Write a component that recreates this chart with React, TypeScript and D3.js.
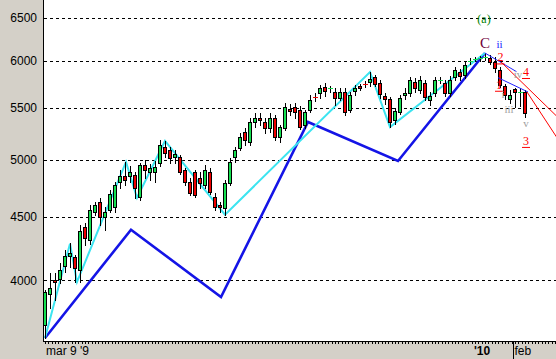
import React from "react";
import * as d3 from "d3";

const WIDTH = 556;
const HEIGHT = 359;

const opens = [
  3683, 3900, 4003, 4012, 4111, 4187, 4180, 4081, 4418, 4313,
  4541, 4626, 4500, 4558, 4583, 4799, 4852, 4852, 4861, 4669,
  4951, 4888, 4888, 4970, 5119, 5091, 5026, 5026, 4906, 4799,
  4888, 4834, 4773, 4888, 4669, 4600, 4575, 4790, 5026, 5110,
  5262, 5166, 5360, 5400, 5360, 5302, 5400, 5214, 5302, 5490,
  5511, 5481, 5331, 5481, 5614, 5656, 5719, 5698, 5666, 5604,
  5666, 5481, 5677, 5725, 5755, 5776, 5825, 5761, 5624, 5593,
  5380, 5460, 5635, 5656, 5772, 5687, 5761, 5583, 5656, 5790,
  5761, 5656, 5825, 5879, 5847, 5995, 6018, 6030, 6040, 6033,
  5989, 5901, 5730, 5593, 5698, 5662, 5666,
];
const highs = [
  3929, 4058, 4058, 4134, 4234, 4289, 4195, 4434, 4450, 4600,
  4626, 4660, 4583, 4729, 4799, 4906, 4979, 4942, 4888, 4970,
  4997, 4960, 4988, 5185, 5176, 5119, 5091, 5044, 4924, 4834,
  4906, 4888, 4951, 4924, 4703, 4626, 4817, 5017, 5119, 5252,
  5302, 5400, 5450, 5450, 5400, 5450, 5430, 5331, 5552, 5542,
  5552, 5521, 5481, 5635, 5656, 5740, 5761, 5730, 5708, 5708,
  5708, 5666, 5740, 5750, 5780, 5879, 5847, 5793, 5656, 5614,
  5500, 5635, 5708, 5825, 5815, 5836, 5793, 5666, 5825, 5825,
  5793, 5836, 5934, 5912, 5989, 6030, 6045, 6060, 6089, 6067,
  6045, 5934, 5750, 5687, 5708, 5708, 5687,
];
const lows = [
  3596, 3801, 3858, 3981, 4066, 4104, 3988, 3988, 4273, 4281,
  4516, 4434, 4393, 4541, 4541, 4747, 4773, 4799, 4660, 4643,
  4834, 4817, 4799, 4942, 5026, 4970, 4970, 4870, 4773, 4686,
  4669, 4747, 4747, 4695, 4558, 4541, 4516, 4773, 4979, 5091,
  5138, 5138, 5311, 5331, 5252, 5262, 5185, 5166, 5282, 5430,
  5400, 5292, 5302, 5460, 5573, 5604, 5624, 5666, 5531, 5583,
  5430, 5460, 5635, 5690, 5720, 5730, 5730, 5604, 5542, 5311,
  5340, 5440, 5593, 5624, 5666, 5656, 5583, 5531, 5624, 5760,
  5624, 5624, 5793, 5793, 5815, 5970, 5995, 6000, 6010, 5967,
  5879, 5719, 5593, 5552, 5511, 5521, 5410,
];
const closes = [
  3915, 3944, 3988, 4074, 4187, 4211, 4096, 4385, 4329, 4558,
  4600, 4500, 4541, 4695, 4773, 4852, 4817, 4888, 4747, 4951,
  4906, 4924, 4933, 5138, 5063, 5017, 5054, 4888, 4799, 4703,
  4686, 4790, 4906, 4712, 4583, 4583, 4790, 4979, 5091, 5214,
  5185, 5360, 5400, 5380, 5302, 5400, 5214, 5311, 5511, 5470,
  5460, 5311, 5460, 5583, 5604, 5708, 5677, 5708, 5604, 5666,
  5460, 5635, 5708, 5712, 5745, 5804, 5750, 5645, 5593, 5360,
  5470, 5604, 5656, 5793, 5708, 5793, 5614, 5624, 5793, 5796,
  5656, 5793, 5901, 5836, 5956, 6005, 6025, 6036, 6046, 5989,
  5923, 5740, 5635, 5635, 5666, 5670, 5450,
];

const yTickValues = [4000, 4500, 5000, 5500, 6000, 6500];

// wave lines: bar index / price
const blueWaveIdx = [0, 17.2, 35.2, 52.6, 70.6, 88];
const blueWaveVal = [3596, 4393, 3879, 5360, 4988, 6089];
const cyanIdx = [0, 5, 6.4, 16.2, 18.4, 24, 36, 65, 69, 88];
const cyanVal = [3596, 4281, 3988, 4979, 4660, 5176, 4516, 5879, 5311, 6089];

const thinBlueA_Idx = [88, 94.3];
const thinBlueA_Val = [6089, 5883];
const thinBlueB_Idx = [90.6, 96.6];
const thinBlueB_Val = [5818, 5666];
const thinRedA_Idx = [91.2, 102.3];
const thinRedA_Val = [5989, 5420];
const thinRedB_Idx = [96.4, 102.3];
const thinRedB_Val = [5666, 5214];

const waveLabelText = ["(a)", "C", "ii", "2", "iv", "4", "1", "i", "iii", "v", "3"];
const waveLabelIdx = [87.8, 88, 90.9, 91.1, 94.6, 96.2, 90.8, 91.6, 92.8, 96.2, 96.2];
const waveLabelVal = [6437, 6145, 6150, 5995, 5815, 5836, 5700, 5605, 5450, 5311, 5138];
const waveLabelKind = ["green", "maroon", "blue", "red", "gray", "red", "red", "gray", "gray", "gray", "red"];

const xAxisLabels = ["mar 9 '9", "'10", "feb"];
const xAxisLabelIdx = [0, 85.6, 93.5];

export default function App() {
  const plotLeft = 43;
  const plotBottom = 341;
  const x = d3.scaleLinear().domain([0, 96]).range([45, 525]);
  const y = d3.scaleLog().domain([4000, 6000]).range([280.4, 61]);

  const line = d3
    .line<[number, number]>()
    .x((d) => x(d[0]))
    .y((d) => y(d[1]));
  const pts = (a: number[], b: number[]) => a.map((v, i) => [v, b[i]] as [number, number]);

  const green = "#14e050";
  const red = "#ee0000";

  const labelColor: Record<string, string> = {
    green: "#008000",
    maroon: "#700038",
    red: "#ff0000",
    blue: "#1818ff",
    gray: "#a0a0a0",
  };

  const xTicks = d3.range(0, 103, 2 / 3);

  return (
    <svg
      width={WIDTH}
      height={HEIGHT}
      style={{ position: "absolute", left: 0, top: 0, display: "block" }}
    >
      <defs>
        <clipPath id="plotClip">
          <rect x={plotLeft + 1} y={0} width={WIDTH - plotLeft - 1} height={plotBottom} />
        </clipPath>
      </defs>
      <rect x={0} y={0} width={WIDTH} height={HEIGHT} fill="#ffffff" />
      {yTickValues.map((v) => (
        <line
          key={"g" + v}
          x1={plotLeft + 1}
          x2={WIDTH}
          y1={Math.round(y(v)) + 0.5}
          y2={Math.round(y(v)) + 0.5}
          stroke="#000"
          strokeDasharray="3,3"
          shapeRendering="crispEdges"
        />
      ))}
      <g clipPath="url(#plotClip)">
        <path d={line(pts(blueWaveIdx, blueWaveVal)) || ""} fill="none" stroke="#1414e6" strokeWidth={2.6} />
        <path d={line(pts(cyanIdx, cyanVal)) || ""} fill="none" stroke="#3ce4f0" strokeWidth={2} />
        {opens.map((o, i) => {
          const c = closes[i];
          const cx = Math.round(x(i));
          const yo = y(o);
          const yc = y(c);
          const top = Math.round(Math.min(yo, yc));
          const bot = Math.round(Math.max(yo, yc));
          const up = c >= o;
          const doji = bot - top < 2;
          return (
            <g key={"c" + i} shapeRendering="crispEdges">
              <line x1={cx + 0.5} x2={cx + 0.5} y1={Math.round(y(highs[i]))} y2={Math.round(y(lows[i])) + 1} stroke="#000" />
              {doji ? (
                <line x1={cx - 2} x2={cx + 3} y1={top + 0.5} y2={top + 0.5} stroke={up ? green : red} />
              ) : (
                <rect x={cx - 1.5} y={top + 0.5} width={3} height={bot - top} fill={up ? green : red} stroke="#000" />
              )}
            </g>
          );
        })}
        <path d={line(pts(thinBlueA_Idx, thinBlueA_Val)) || ""} fill="none" stroke="#2020ff" strokeWidth={1} />
        <path d={line(pts(thinBlueB_Idx, thinBlueB_Val)) || ""} fill="none" stroke="#2020ff" strokeWidth={1} />
        <path d={line(pts(thinRedA_Idx, thinRedA_Val)) || ""} fill="none" stroke="#ff0000" strokeWidth={1} />
        <path d={line(pts(thinRedB_Idx, thinRedB_Val)) || ""} fill="none" stroke="#ff0000" strokeWidth={1} />
        {waveLabelText.map((t, i) => {
          const kind = waveLabelKind[i];
          const lx = x(waveLabelIdx[i]);
          const ly = y(waveLabelVal[i]);
          const size = kind === "maroon" ? 15 : kind === "gray" || kind === "blue" ? 11 : 12;
          return (
            <g key={"w" + i}>
              <text
                x={lx}
                y={ly}
                textAnchor="middle"
                fontFamily="'Liberation Serif', 'DejaVu Serif', serif"
                fontSize={size}
                fill={labelColor[kind]}
              >
                {t}
              </text>
              {kind === "red" ? (
                <line x1={lx - 4} x2={lx + 4} y1={ly + 2.5} y2={ly + 2.5} stroke={labelColor[kind]} />
              ) : null}
            </g>
          );
        })}
      </g>
      <rect x={0} y={0} width={plotLeft} height={HEIGHT} fill="#d4d0c8" />
      <rect x={0} y={plotBottom + 1} width={WIDTH} height={HEIGHT - plotBottom - 1} fill="#d4d0c8" />
      <line x1={plotLeft + 0.5} x2={plotLeft + 0.5} y1={0} y2={plotBottom + 1} stroke="#000" shapeRendering="crispEdges" />
      <line x1={plotLeft} x2={WIDTH} y1={plotBottom + 0.5} y2={plotBottom + 0.5} stroke="#000" shapeRendering="crispEdges" />
      {xTicks.map((t, i) => (
        <line
          key={"t" + i}
          x1={Math.round(x(t)) + 0.5}
          x2={Math.round(x(t)) + 0.5}
          y1={plotBottom + 1}
          y2={plotBottom + 3}
          stroke="#000"
          shapeRendering="crispEdges"
        />
      ))}
      {yTickValues.map((v) => (
        <text
          key={"yl" + v}
          x={37}
          y={y(v)}
          dy="0.36em"
          textAnchor="end"
          fontFamily="'Liberation Sans', Arial, sans-serif"
          fontSize={12}
          fill="#000"
        >
          {v}
        </text>
      ))}
      {xAxisLabels.map((t, i) => {
        const lx = x(xAxisLabelIdx[i]);
        const isFeb = t === "feb";
        return (
          <g key={"xl" + i}>
            {isFeb ? (
              <line x1={Math.round(lx) + 0.5} x2={Math.round(lx) + 0.5} y1={plotBottom + 1} y2={HEIGHT} stroke="#000" shapeRendering="crispEdges" />
            ) : null}
            <text
              x={isFeb ? lx + 2 : lx + 1}
              y={355}
              fontFamily="'Liberation Sans', Arial, sans-serif"
              fontSize={12}
              fontWeight={t === "'10" ? "bold" : "normal"}
              fill="#000"
            >
              {t}
            </text>
          </g>
        );
      })}
    </svg>
  );
}
